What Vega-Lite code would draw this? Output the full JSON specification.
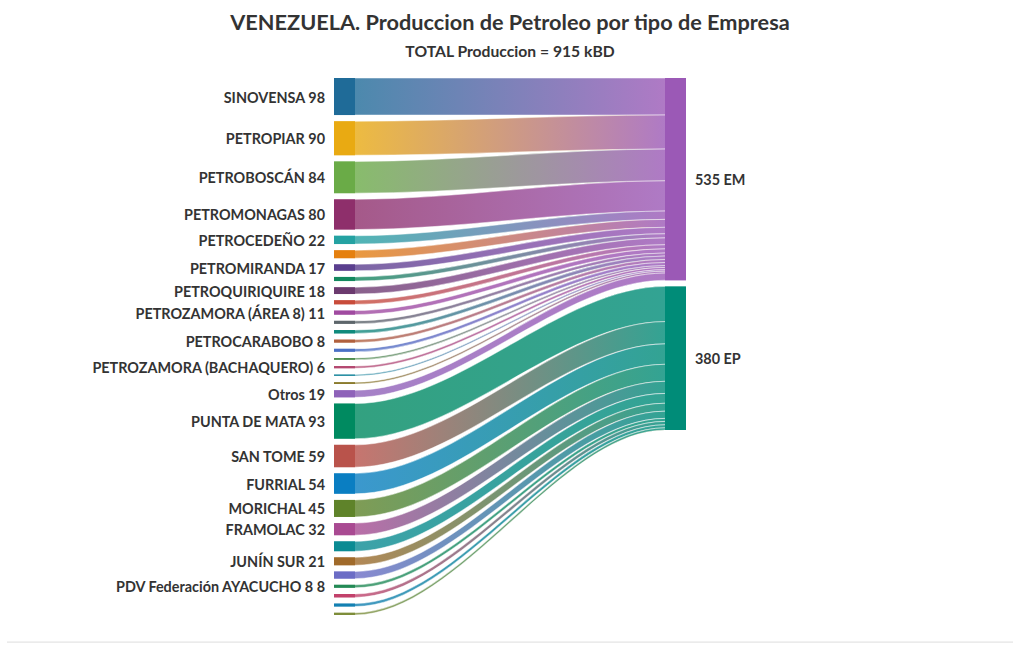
{
  "$schema": "https://vega.github.io/schema/vega-lite/v6.json",
  "width": 352,
  "height": 537,
  "autosize": {"type": "none"},
  "padding": {"left": 334, "top": 78, "right": 334, "bottom": 35},
  "background": "white",
  "config": {"view": {"stroke": null}, "font": "Lato"},
  "title": {
    "text": "VENEZUELA. Produccion de Petroleo por tipo de Empresa",
    "subtitle": "TOTAL Produccion = 915 kBD",
    "anchor": "middle",
    "frame": "group",
    "font": "Lato",
    "fontSize": 21.7,
    "fontWeight": "bold",
    "color": "#333333",
    "subtitleFont": "Lato",
    "subtitleFontSize": 15.7,
    "subtitleFontWeight": "bold",
    "subtitleColor": "#333333",
    "subtitlePadding": 11,
    "offset": 17
  },
  "data": {
    "values": [
      {"i": 1, "id": "n01", "empresa": "SINOVENSA", "tipo": "EM", "valor": 98},
      {"i": 2, "id": "n02", "empresa": "PETROPIAR", "tipo": "EM", "valor": 90},
      {"i": 3, "id": "n03", "empresa": "PETROBOSCÁN", "tipo": "EM", "valor": 84},
      {"i": 4, "id": "n04", "empresa": "PETROMONAGAS", "tipo": "EM", "valor": 80},
      {"i": 5, "id": "n05", "empresa": "PETROCEDEÑO", "tipo": "EM", "valor": 22},
      {"i": 6, "id": "n06", "empresa": "", "tipo": "EM", "valor": 21},
      {"i": 7, "id": "n07", "empresa": "PETROMIRANDA", "tipo": "EM", "valor": 17},
      {"i": 8, "id": "n08", "empresa": "", "tipo": "EM", "valor": 11},
      {"i": 9, "id": "n09", "empresa": "PETROQUIRIQUIRE", "tipo": "EM", "valor": 18},
      {"i": 10, "id": "n10", "empresa": "", "tipo": "EM", "valor": 11},
      {"i": 11, "id": "n11", "empresa": "PETROZAMORA (ÁREA 8)", "tipo": "EM", "valor": 11},
      {"i": 12, "id": "n12", "empresa": "", "tipo": "EM", "valor": 8},
      {"i": 13, "id": "n13", "empresa": "", "tipo": "EM", "valor": 9},
      {"i": 14, "id": "n14", "empresa": "PETROCARABOBO", "tipo": "EM", "valor": 8},
      {"i": 15, "id": "n15", "empresa": "", "tipo": "EM", "valor": 8},
      {"i": 16, "id": "n16", "empresa": "", "tipo": "EM", "valor": 5},
      {"i": 17, "id": "n17", "empresa": "PETROZAMORA (BACHAQUERO)", "tipo": "EM", "valor": 6},
      {"i": 18, "id": "n18", "empresa": "", "tipo": "EM", "valor": 4},
      {"i": 19, "id": "n19", "empresa": "", "tipo": "EM", "valor": 5},
      {"i": 20, "id": "n20", "empresa": "Otros", "tipo": "EM", "valor": 19},
      {"i": 21, "id": "n21", "empresa": "PUNTA DE MATA", "tipo": "EP", "valor": 93},
      {"i": 22, "id": "n22", "empresa": "SAN TOME", "tipo": "EP", "valor": 59},
      {"i": 23, "id": "n23", "empresa": "FURRIAL", "tipo": "EP", "valor": 54},
      {"i": 24, "id": "n24", "empresa": "MORICHAL", "tipo": "EP", "valor": 45},
      {"i": 25, "id": "n25", "empresa": "FRAMOLAC", "tipo": "EP", "valor": 32},
      {"i": 26, "id": "n26", "empresa": "", "tipo": "EP", "valor": 26},
      {"i": 27, "id": "n27", "empresa": "JUNÍN SUR", "tipo": "EP", "valor": 21},
      {"i": 28, "id": "n28", "empresa": "", "tipo": "EP", "valor": 19},
      {"i": 29, "id": "n29", "empresa": "PDV Federación AYACUCHO 8", "tipo": "EP", "valor": 8},
      {"i": 30, "id": "n30", "empresa": "", "tipo": "EP", "valor": 9},
      {"i": 31, "id": "n31", "empresa": "", "tipo": "EP", "valor": 8},
      {"i": 32, "id": "n32", "empresa": "", "tipo": "EP", "valor": 6}
    ]
  },
  "layer": [
    {
      "transform": [
        {"window": [{"op": "sum", "field": "valor", "as": "cum"}, {"op": "row_number", "as": "rn"}], "sort": [{"field": "i"}], "frame": [null, 0]},
        {"window": [{"op": "sum", "field": "valor", "as": "cumT"}], "groupby": ["tipo"], "sort": [{"field": "i"}], "frame": [null, 0]},
        {"calculate": "datum.tipo == 'EM' ? datum.valor : 0", "as": "em"},
        {"joinaggregate": [{"op": "sum", "field": "em", "as": "emTot"}]},
        {"calculate": "datum.cum - datum.valor + (datum.rn - 1) * 16.3", "as": "sy0"},
        {"calculate": "datum.sy0 + datum.valor", "as": "sy1"},
        {"calculate": "(datum.tipo == 'EM' ? 0 : datum.emTot + 16.3) + datum.cumT - datum.valor", "as": "ty0"},
        {"calculate": "datum.ty0 + datum.valor", "as": "ty1"}
      ],
      "layer": [
        {
          "transform": [
            {"fold": ["p0", "p1", "p2", "p3"], "as": ["k", "kv"]},
            {"calculate": "datum.k == 'p0' ? 0 : datum.k == 'p1' ? 21 : datum.k == 'p2' ? 331 : 352", "as": "px"},
            {"calculate": "(datum.k == 'p0' || datum.k == 'p1') ? datum.sy0 : datum.ty0", "as": "lo"},
            {"calculate": "(datum.k == 'p0' || datum.k == 'p1') ? datum.sy1 : datum.ty1", "as": "hi"}
          ],
          "layer": [
            {
              "transform": [{"filter": "datum.tipo == 'EM'"}],
              "mark": {"type": "area", "interpolate": "monotone", "orient": "vertical", "fill": "white", "opacity": 1},
              "encoding": {
                "x": {"field": "px", "type": "quantitative", "scale": {"domain": [0, 352], "nice": false, "zero": false}, "axis": null},
                "y": {"field": "lo", "type": "quantitative", "stack": null, "scale": {"domain": [0, 1420.3], "reverse": true, "nice": false, "zero": false}, "axis": null},
                "y2": {"field": "hi"},
                "detail": {"field": "id"}
              }
            },
            {
              "transform": [{"filter": "datum.tipo == 'EM'"}],
              "mark": {"type": "area", "interpolate": "monotone", "orient": "vertical", "opacity": 0.8},
              "encoding": {
                "x": {"field": "px", "type": "quantitative", "axis": null},
                "y": {"field": "lo", "type": "quantitative", "stack": null, "axis": null},
                "y2": {"field": "hi"},
                "color": {
                  "field": "id",
                  "type": "nominal",
                  "legend": null,
                  "scale": {
                    "domain": ["n01","n02","n03","n04","n05","n06","n07","n08","n09","n10","n11","n12","n13","n14","n15","n16","n17","n18","n19","n20","n21","n22","n23","n24","n25","n26","n27","n28","n29","n30","n31","n32","EM","EP"],
                    "range": ["#1f6b98","#e9aa12","#6aab47","#8e2f6b","#24a2a2","#e5800f","#5a3f8e","#13885e","#6b3a6e","#c84b3a","#a04aa0","#5d666b","#0f8a7c","#b0603e","#4b70c6","#4f8d4f","#b44870","#2b90a4","#8b7b2d","#8e62b9","#008a60","#b9534b","#0a7ec2","#5f832a","#a94a92","#0b8b93","#a06a2a","#6b6cc5","#238a55","#c2416b","#1380b2","#7e8d3a","#9b59b6","#008c78"]
                  }
                }
              }
            },
            {
              "transform": [{"filter": "datum.tipo == 'EM'"}],
              "mark": {
                "type": "area", "interpolate": "monotone", "orient": "vertical",
                "fill": {"gradient": "linear", "x1": 0.06, "x2": 0.94, "y1": 0, "y2": 0,
                  "stops": [{"offset": 0, "color": "rgba(175,122,197,0)"}, {"offset": 1, "color": "rgba(175,122,197,1)"}]},
                "stroke": "white", "strokeWidth": 0.5
              },
              "encoding": {
                "x": {"field": "px", "type": "quantitative", "axis": null},
                "y": {"field": "lo", "type": "quantitative", "stack": null, "axis": null},
                "y2": {"field": "hi"},
                "detail": {"field": "id"}
              }
            },
            {
              "transform": [{"filter": "datum.tipo == 'EP'"}],
              "mark": {"type": "area", "interpolate": "monotone", "orient": "vertical", "fill": "white", "opacity": 1},
              "encoding": {
                "x": {"field": "px", "type": "quantitative", "axis": null},
                "y": {"field": "lo", "type": "quantitative", "stack": null, "axis": null},
                "y2": {"field": "hi"},
                "detail": {"field": "id"}
              }
            },
            {
              "transform": [{"filter": "datum.tipo == 'EP'"}],
              "mark": {"type": "area", "interpolate": "monotone", "orient": "vertical", "opacity": 0.8},
              "encoding": {
                "x": {"field": "px", "type": "quantitative", "axis": null},
                "y": {"field": "lo", "type": "quantitative", "stack": null, "axis": null},
                "y2": {"field": "hi"},
                "color": {"field": "id", "type": "nominal", "legend": null}
              }
            },
            {
              "transform": [{"filter": "datum.tipo == 'EP'"}],
              "mark": {
                "type": "area", "interpolate": "monotone", "orient": "vertical",
                "fill": {"gradient": "linear", "x1": 0.06, "x2": 0.94, "y1": 0, "y2": 0,
                  "stops": [{"offset": 0, "color": "rgba(51,163,147,0)"}, {"offset": 1, "color": "rgba(51,163,147,1)"}]},
                "stroke": "white", "strokeWidth": 0.5
              },
              "encoding": {
                "x": {"field": "px", "type": "quantitative", "axis": null},
                "y": {"field": "lo", "type": "quantitative", "stack": null, "axis": null},
                "y2": {"field": "hi"},
                "detail": {"field": "id"}
              }
            }
          ]
        },
        {
          "mark": {"type": "rect"},
          "encoding": {
            "x": {"datum": 0, "type": "quantitative", "axis": null},
            "x2": {"datum": 21},
            "y": {"field": "sy0", "type": "quantitative", "axis": null},
            "y2": {"field": "sy1"},
            "color": {"field": "id", "type": "nominal", "legend": null}
          }
        },
        {
          "transform": [
            {"filter": "datum.empresa != ''"},
            {"calculate": "(datum.sy0 + datum.sy1) / 2", "as": "mid"},
            {"calculate": "datum.empresa + ' ' + datum.valor", "as": "etiqueta"}
          ],
          "mark": {"type": "text", "align": "right", "baseline": "middle", "dx": -9, "dy": 2, "font": "Lato", "fontSize": 14.4, "fontWeight": "bold", "color": "#333333"},
          "encoding": {
            "x": {"datum": 0, "type": "quantitative", "axis": null},
            "y": {"field": "mid", "type": "quantitative", "axis": null},
            "text": {"field": "etiqueta"}
          }
        },
        {
          "transform": [
            {"aggregate": [{"op": "sum", "field": "valor", "as": "tot"}, {"op": "min", "field": "ty0", "as": "r0"}, {"op": "max", "field": "ty1", "as": "r1"}], "groupby": ["tipo"]},
            {"calculate": "(datum.r0 + datum.r1) / 2", "as": "rmid"},
            {"calculate": "datum.tot + ' ' + datum.tipo", "as": "rlab"}
          ],
          "layer": [
            {
              "mark": {"type": "rect"},
              "encoding": {
                "x": {"datum": 331, "type": "quantitative", "axis": null},
                "x2": {"datum": 352},
                "y": {"field": "r0", "type": "quantitative", "axis": null},
                "y2": {"field": "r1"},
                "color": {"field": "tipo", "type": "nominal", "legend": null}
              }
            },
            {
              "mark": {"type": "text", "align": "left", "baseline": "middle", "dx": 9, "dy": 2, "font": "Lato", "fontSize": 14.4, "fontWeight": "bold", "color": "#333333"},
              "encoding": {
                "x": {"datum": 352, "type": "quantitative", "axis": null},
                "y": {"field": "rmid", "type": "quantitative", "axis": null},
                "text": {"field": "rlab"}
              }
            }
          ]
        }
      ]
    },
    {
      "data": {"values": [{"sep": 1}]},
      "mark": {"type": "rule", "color": "#dddddd", "strokeWidth": 1},
      "encoding": {
        "x": {"datum": -327, "type": "quantitative", "axis": null},
        "x2": {"datum": 679},
        "y": {"datum": 1492, "type": "quantitative", "axis": null}
      }
    }
  ]
}
